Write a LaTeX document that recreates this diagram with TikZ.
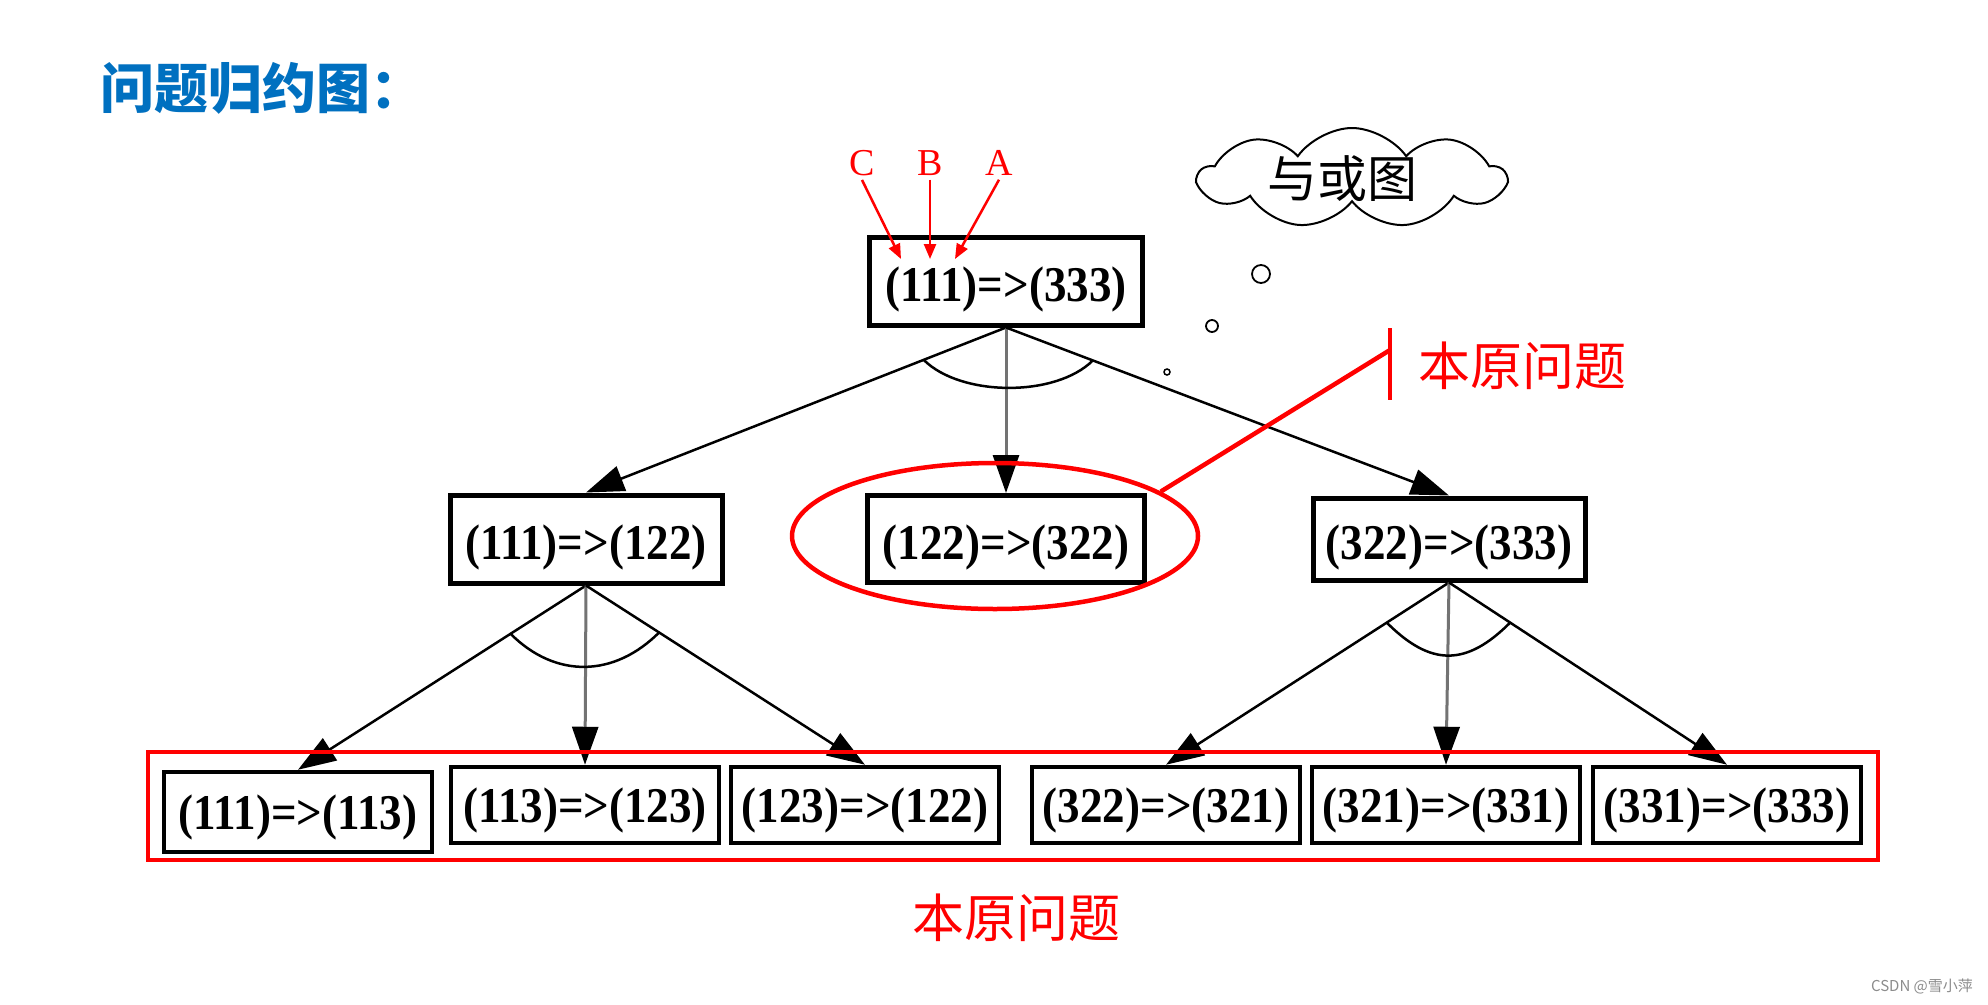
\documentclass[tikz,border=0pt]{standalone}
\usepackage{fontspec}
\usetikzlibrary{arrows.meta,shapes.geometric,shapes.symbols,calc}
\setmainfont{Liberation Serif}
\newfontfamily\boxfont{Liberation Serif}[FakeStretch=0.9]
\newfontfamily\cjkfont{Noto Sans CJK SC}
\definecolor{titleblue}{RGB}{0,112,192}
\begin{document}
\begin{tikzpicture}[x=1pt,y=-1pt,
  box/.style={draw=black,line width=5pt,inner sep=0pt,minimum width=272pt,minimum height=86pt,
    text height=40pt,text depth=0pt,
    font=\boxfont\bfseries\fontsize{50}{50}\selectfont},
  leaf/.style={box,line width=4.5pt,minimum width=268pt,minimum height=76pt,text height=35pt},
  conn/.style={line width=2.5pt,-{Triangle[length=38pt,width=26pt,color=black]}},
  midconn/.style={conn,draw=black!55,line width=3pt},
  andarc/.style={line width=2.5pt},
  redarrow/.style={red,line width=2.5pt,-{Triangle[length=15pt,width=12pt]}},
  redline/.style={red,line width=4.5pt},
  letter/.style={red,font=\fontsize{38}{38}\selectfont,inner sep=0pt},
  redtext/.style={red,font=\cjkfont\fontsize{52}{52}\selectfont,inner sep=0pt},
  bubble/.style={draw=black,line width=1.8pt}
]
\useasboundingbox (0,0) rectangle (1988,1004);
\fill[white] (0,0) rectangle (1988,1004);

% title
\node[anchor=west,inner sep=0pt,text=titleblue,font=\cjkfont\bfseries\fontsize{54}{54}\selectfont] (title) at (100,88) {问题归约图：};

% tree nodes
\node[box,minimum width=273pt,minimum height=88pt] (T) at (1006,281) {(111)=>(333)};
\node[box,minimum height=88pt] (L) at (586,539) {(111)=>(122)};
\node[box,minimum width=277pt,minimum height=87pt] (M) at (1006,539) {(122)=>(322)};
\node[box,minimum height=82pt] (R) at (1449,539) {(322)=>(333)};

\node[leaf,minimum height=80pt] (B1) at (298,812) {(111)=>(113)};
\node[leaf] (B2) at (585,805) {(113)=>(123)};
\node[leaf] (B3) at (865,805) {(123)=>(122)};
\node[leaf] (B4) at (1166,805) {(322)=>(321)};
\node[leaf] (B5) at (1446,805) {(321)=>(331)};
\node[leaf] (B6) at (1727,805) {(331)=>(333)};

% edges
\draw[conn] (T.south) -- (L.north);
\draw[midconn] (T.south) -- (M.north);
\draw[conn] (T.south) -- (R.north);
\draw[conn] (L.south) -- (B1.north);
\draw[midconn] (L.south) -- (B2.north);
\draw[conn] (L.south) -- (B3.north);
\draw[conn] (R.south) -- (B4.north);
\draw[midconn] (R.south) -- (B5.north);
\draw[conn] (R.south) -- (B6.north);

% and-arcs
\coordinate (ta1) at ($(T.south)!0.196!(L.north)$);
\coordinate (ta2) at ($(T.south)!0.196!(R.north)$);
\draw[andarc] (ta1) .. controls +(37,37) and +(-37,37) .. (ta2);
\coordinate (la1) at ($(L.south)!0.262!(B1.north)$);
\coordinate (la2) at ($(L.south)!0.262!(B3.north)$);
\draw[andarc] (la1) .. controls +(45,45) and +(-45,45) .. (la2);
\coordinate (ra1) at ($(R.south)!0.22!(B4.north)$);
\coordinate (ra2) at ($(R.south)!0.22!(B6.north)$);
\draw[andarc] (ra1) .. controls +(44,44) and +(-44,44) .. (ra2);

% C B A
\node[letter] (lC) at (862,163) {C};
\node[letter] (lB) at (930,163) {B};
\node[letter] (lA) at (999,163) {A};
\coordinate (tC) at (901,259);
\coordinate (tB) at (930,259);
\coordinate (tA) at (955,259);
\draw[redarrow] (lC.south) ++(0,4) -- (tC);
\draw[redarrow] (lB.south) ++(0,4) -- (tB);
\draw[redarrow] (lA.south) ++(0,4) -- (tA);

% cloud
\node[cloud,draw=black,line width=2pt,cloud puffs=9,cloud puff arc=110,cloud ignores aspect,
  minimum width=306pt,minimum height=100pt,inner sep=0pt] (cloud) at (1352,178) {};
\node[inner sep=0pt,font=\cjkfont\fontsize{50}{50}\selectfont] (cloudtext) at (1342,179) {与或图};
\node[circle,bubble,minimum size=18pt,inner sep=0pt] (bub1) at (1261,274) {};
\node[circle,bubble,minimum size=12pt,inner sep=0pt] (bub2) at (1212,326) {};
\node[circle,bubble,line width=1.5pt,minimum size=6pt,inner sep=0pt] (bub3) at (1167,372) {};

% red ellipse and label
\node[ellipse,draw=red,line width=4.5pt,minimum width=406pt,minimum height=146pt,inner sep=0pt] (E) at (995,536) {};
\coordinate (J) at (1390,350);
\coordinate (Jt) at (1390,328);
\coordinate (Jb) at (1390,400);
\draw[redline] (E.15) -- (J);
\draw[redline] (Jt) -- (Jb);
\node[redtext] (lab1) at (1522,366) {本原问题};

% red frame and bottom label
\draw[redline] (148,752) rectangle (1878,860);
\node[redtext] (lab2) at (1016,918) {本原问题};

% watermark
\node[inner sep=0pt,text=black!45,font=\cjkfont\fontsize{15}{15}\selectfont] (wm) at (1922,986) {CSDN @雪小萍};
\end{tikzpicture}
\end{document}
